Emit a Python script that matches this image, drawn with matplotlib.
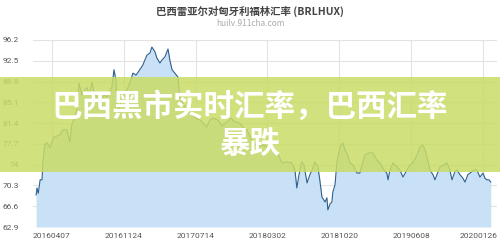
import numpy as np
import pandas as pd
import matplotlib
matplotlib.use("Agg")
import matplotlib.pyplot as plt
import matplotlib.dates as mdates
import matplotlib.transforms as mtransforms
from matplotlib.patches import Rectangle

plt.rcParams['font.family'] = ['Noto Sans CJK SC', 'DejaVu Sans']

# BRL/HUF daily close, sampled
dates = [
    "2016-02-16", "2016-02-19", "2016-02-23", "2016-02-29", "2016-03-06", "2016-03-09",
    "2016-03-15", "2016-03-22", "2016-04-01", "2016-04-10", "2016-04-13", "2016-05-03",
    "2016-05-12", "2016-05-25", "2016-06-04", "2016-06-10", "2016-06-20", "2016-06-26",
    "2016-07-03", "2016-07-13", "2016-07-22", "2016-07-29", "2016-08-04", "2016-08-14",
    "2016-08-20", "2016-08-30", "2016-09-09", "2016-09-22", "2016-10-01", "2016-10-17",
    "2016-10-24", "2016-10-30", "2016-11-06", "2016-11-18", "2016-12-01", "2016-12-14",
    "2016-12-24", "2017-01-03", "2017-01-15", "2017-01-25", "2017-02-07", "2017-02-17",
    "2017-02-23", "2017-03-05", "2017-03-11", "2017-03-21", "2017-03-27", "2017-04-06",
    "2017-04-16", "2017-04-22", "2017-04-29", "2017-05-08", "2017-05-18", "2017-05-24",
    "2017-06-06", "2017-06-16", "2017-07-02", "2017-07-15", "2017-07-28", "2017-08-10",
    "2017-08-19", "2017-08-29", "2017-09-08", "2017-09-24", "2017-10-07", "2017-10-23",
    "2017-11-05", "2017-11-18", "2017-12-04", "2017-12-17", "2017-12-26", "2018-01-11",
    "2018-01-27", "2018-02-16", "2018-03-04", "2018-03-17", "2018-03-26", "2018-04-08",
    "2018-04-18", "2018-05-04", "2018-05-20", "2018-05-30", "2018-06-05", "2018-06-12",
    "2018-06-21", "2018-06-28", "2018-07-08", "2018-07-17", "2018-07-27", "2018-08-02",
    "2018-08-12", "2018-08-18", "2018-08-25", "2018-09-04", "2018-09-10", "2018-09-13",
    "2018-09-20", "2018-09-26", "2018-09-29", "2018-10-06", "2018-10-12", "2018-10-22",
    "2018-11-01", "2018-11-07", "2018-11-13", "2018-11-23", "2018-12-03", "2018-12-16",
    "2018-12-25", "2019-01-04", "2019-01-10", "2019-01-23", "2019-02-05", "2019-02-18",
    "2019-02-28", "2019-03-13", "2019-03-22", "2019-03-26", "2019-04-01", "2019-04-11",
    "2019-04-24", "2019-05-03", "2019-05-13", "2019-05-26", "2019-06-05", "2019-06-14",
    "2019-06-27", "2019-07-07", "2019-07-16", "2019-07-23", "2019-07-29", "2019-08-08",
    "2019-08-18", "2019-08-24", "2019-09-03", "2019-09-09", "2019-09-22", "2019-10-02",
    "2019-10-11", "2019-10-18", "2019-10-27", "2019-11-03", "2019-11-13", "2019-11-22",
    "2019-11-29", "2019-12-08", "2019-12-15", "2019-12-28", "2020-01-06", "2020-01-16",
    "2020-01-26", "2020-02-01", "2020-02-07", "2020-02-14", "2020-02-20",
]
rates = [
    68.6, 69.85, 68.9, 71.3, 71.3, 74.5,
    77.5, 77.9, 77.0, 78.4, 78.9, 79.3,
    80.2, 80.2, 78.0, 81.1, 82.5, 83.7,
    88.5, 86.4, 87.3, 87.7, 86.4, 88.7,
    87.0, 86.0, 85.5, 86.4, 86.05, 87.8,
    90.9, 89.1, 83.2, 85.5, 86.9, 88.5,
    90.3, 89.95, 90.9, 91.75, 93.5, 93.9,
    94.95, 94.1, 93.0, 92.1, 92.6, 93.2,
    94.6, 92.6, 90.9, 90.3, 89.6, 86.05,
    84.6, 83.7, 82.8, 82.3, 81.95, 81.2,
    80.7, 81.95, 82.3, 81.95, 80.9, 81.6,
    82.3, 81.6, 81.4, 80.5, 80.2, 78.4,
    77.15, 77.5, 77.15, 77.5, 76.6, 75.55,
    74.3, 74.5, 74.3, 73.05, 69.85, 72.2,
    74.5, 74.0, 70.75, 72.2, 73.4, 74.5,
    73.6, 71.3, 68.25, 67.35, 68.1, 65.95,
    67.0, 67.35, 69.1, 70.4, 74.3, 77.15,
    77.85, 76.6, 76.1, 74.3, 73.95, 72.5,
    72.5, 74.5, 75.7, 76.1, 76.1, 74.8,
    74.3, 73.05, 72.5, 71.3, 73.05, 74.3,
    73.6, 73.05, 71.8, 73.05, 74.0, 74.3,
    75.7, 77.15, 77.5, 76.6, 75.4, 73.05,
    72.2, 71.3, 72.7, 73.6, 74.0, 74.3,
    73.05, 71.3, 72.7, 73.05, 72.2, 71.6,
    70.9, 72.2, 72.5, 73.05, 73.05, 71.8,
    72.5, 71.6, 71.3, 71.3, 70.9,
]
y_ticks = [62.9, 66.6, 70.3, 74, 77.7, 81.4, 85.1, 88.8, 92.5, 96.2]
x_ticks = ["2016-04-07", "2016-11-24", "2017-07-14", "2018-03-02",
           "2018-10-20", "2019-06-08", "2020-01-26"]

x = pd.to_datetime(dates)
y = np.array(rates)

fig = plt.figure(figsize=(5, 2.5), dpi=100)
ax = fig.add_axes([0.066, 0.092, 0.928, 0.748])

ax.fill_between(x, y, y_ticks[0], color="#c9e1f6", lw=0)
ax.plot(x, y, color="#2f5f8c", lw=0.8)

ax.set_ylim(y_ticks[0], y_ticks[-1])
ax.set_xlim(pd.Timestamp("2016-02-06"), pd.Timestamp("2020-03-11"))
ax.set_yticks(y_ticks)
ax.set_yticklabels([f"{v:g}" for v in y_ticks])
ax.set_xticks(pd.to_datetime(x_ticks))
ax.xaxis.set_major_formatter(mdates.DateFormatter("%Y%m%d"))

ax.grid(True, color="#e3e3e3", lw=0.8)
ax.set_axisbelow(True)
for s in ax.spines.values():
    s.set_visible(False)
ax.tick_params(length=0, labelsize=6, colors="#555555")
ax.tick_params(axis="y", pad=10)
ax.tick_params(axis="x", pad=4)
for lbl in ax.get_xticklabels() + ax.get_yticklabels():
    lbl.set_family(["Roboto", "DejaVu Sans"])

# keep the last date label inside the canvas
last = ax.get_xticklabels()[-1]
last.set_transform(last.get_transform() +
                   mtransforms.ScaledTranslation(-4 / 100, 0, fig.dpi_scale_trans))

fig.text(0.5, 1 - 11 / 250, "巴西雷亚尔对匈牙利福林汇率 (BRLHUX)", ha="center", va="center",
         fontsize=7.5, color="#444444", fontweight="bold")
fig.text(0.5, 1 - 24 / 250, "huilv.911cha.com", ha="center", va="center",
         fontsize=6, color="#aaaaaa")

# headline banner
fig.patches.append(Rectangle((0, 1 - 172 / 250), 1, 95 / 250, transform=fig.transFigure,
                             facecolor="#c9dc66", alpha=0.85, lw=0, zorder=5))
fig.text(0.5, 1 - 107 / 250, "巴西黑市实时汇率，巴西汇率", ha="center", va="center",
         fontsize=22, color="white", fontweight="bold", zorder=6)
fig.text(0.5, 1 - 144 / 250, "暴跌", ha="center", va="center",
         fontsize=22, color="white", fontweight="bold", zorder=6)

fig.savefig("out.png", dpi=100)
